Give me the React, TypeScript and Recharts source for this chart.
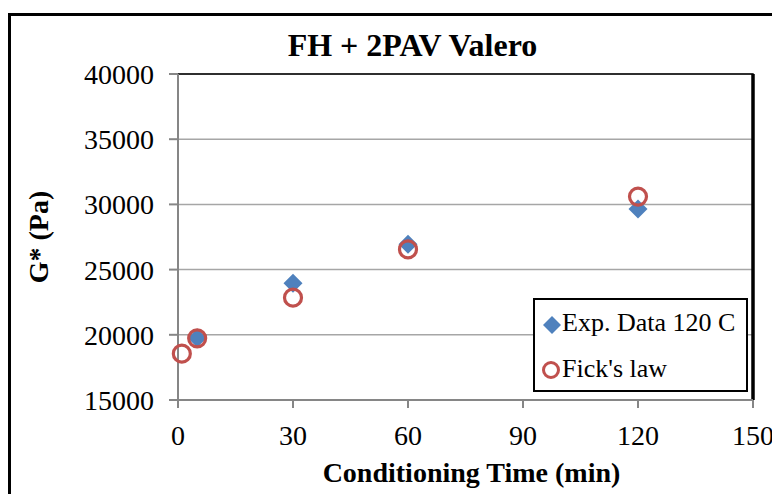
import React from 'react';
import { ScatterChart, Scatter, XAxis, YAxis, CartesianGrid, Legend, ReferenceArea, ReferenceLine } from 'recharts';

const expTime = [5, 30, 60, 120];
const expG = [19750, 23950, 26950, 29650];
const fickTime = [1, 5, 30, 60, 120];
const fickG = [18550, 19730, 22850, 26550, 30600];
const xTicks = [0, 30, 60, 90, 120, 150];
const yTicks = [15000, 20000, 25000, 30000, 35000, 40000];

const expData = expTime.map((t, i) => ({ x: t, y: expG[i] }));
const fickData = fickTime.map((t, i) => ({ x: t, y: fickG[i] }));

const BLUE = '#4f81bd';
const RED = '#c0504d';
const FONT = '"Liberation Serif", "Times New Roman", serif';

const Diamond = (props: any) => {
  const { cx, cy } = props;
  const r = 9.5;
  return <polygon points={`${cx},${cy - r} ${cx + r},${cy} ${cx},${cy + r} ${cx - r},${cy}`} fill={BLUE} />;
};
const Ring = (props: any) => {
  const { cx, cy } = props;
  return <circle cx={cx} cy={cy} r={8.5} fill="none" stroke={RED} strokeWidth={3.2} />;
};

const LegendBox = () => (
  <div style={{ width: 215, height: 94, border: '2px solid #000', background: '#fff', boxSizing: 'border-box', fontFamily: FONT, fontSize: 26, color: '#000', position: 'relative', textAlign: 'left' }}>
    <svg width={24} height={80} style={{ position: 'absolute', left: 5, top: 6 }}>
      <polygon points="12,10 21,19 12,28 3,19" fill={BLUE} />
      <circle cx={11} cy={64} r={7.5} fill="none" stroke={RED} strokeWidth={3} />
    </svg>
    <div style={{ position: 'absolute', left: 27, top: 8, whiteSpace: 'nowrap', lineHeight: '30px' }}>Exp. Data 120 C</div>
    <div style={{ position: 'absolute', left: 27, top: 54, whiteSpace: 'nowrap', lineHeight: '30px' }}>Fick's law</div>
  </div>
);

export default function App() {
  return (
    <div style={{ position: 'relative', width: 780, height: 502, margin: -8, overflow: 'hidden', background: '#fff', fontFamily: FONT }}>
      <style>{`.recharts-wrapper text { font-family: "Liberation Serif", "Times New Roman", serif !important; }`}</style>
      <div style={{ position: 'absolute', left: 8, top: 13, width: 780, height: 3, background: '#000' }} />
      <div style={{ position: 'absolute', left: 8, top: 13, width: 3, height: 502, background: '#000' }} />
      <div style={{ position: 'absolute', left: 0, top: 0 }}>
        <ScatterChart width={780} height={502} margin={{ top: 74, right: 27, bottom: 42, left: 78 }}>
          <CartesianGrid vertical={false} stroke="#a6a6a6" strokeWidth={1.5} />
          <ReferenceArea x1={0} x2={150} y1={15000} y2={40000} fill="none" stroke="#000" strokeWidth={1.5} ifOverflow="visible" />
          <ReferenceLine x={150} stroke="#000" strokeWidth={3.5} />
          <XAxis
            type="number"
            dataKey="x"
            domain={[0, 150]}
            ticks={xTicks}
            height={60}
            stroke="#868686"
            strokeWidth={2}
            tickSize={8}
            tick={{ fill: '#000', fontSize: 28 }}
            tickMargin={17}
            label={{ value: 'Conditioning Time (min)', position: 'insideBottom', offset: -22, dx: 6, style: { fill: '#000', fontSize: 28, fontWeight: 'bold' } }}
          />
          <YAxis
            type="number"
            dataKey="y"
            domain={[15000, 40000]}
            ticks={yTicks}
            width={100}
            stroke="#868686"
            strokeWidth={2}
            tickSize={9}
            tickMargin={15}
            tick={{ fill: '#000', fontSize: 28 }}
            label={{ value: 'G* (Pa)', angle: -90, position: 'insideLeft', offset: -30, dx: -10, style: { fill: '#000', fontSize: 28, fontWeight: 'bold', textAnchor: 'middle' } }}
          />
          <Legend layout="vertical" align="center" verticalAlign="middle" content={<LegendBox />} wrapperStyle={{ position: 'absolute', left: 533, top: 298, width: 215, height: 94 }} />
          <Scatter name="Exp. Data 120 C" data={expData} shape={<Diamond />} isAnimationActive={false} />
          <Scatter name="Fick's law" data={fickData} shape={<Ring />} isAnimationActive={false} />
        </ScatterChart>
      </div>
      <div style={{ position: 'absolute', left: 0, width: 825, top: 26, textAlign: 'center', fontWeight: 'bold', fontSize: 32, lineHeight: '38px', color: '#000' }}>
        FH + 2PAV Valero
      </div>
    </div>
  );
}
